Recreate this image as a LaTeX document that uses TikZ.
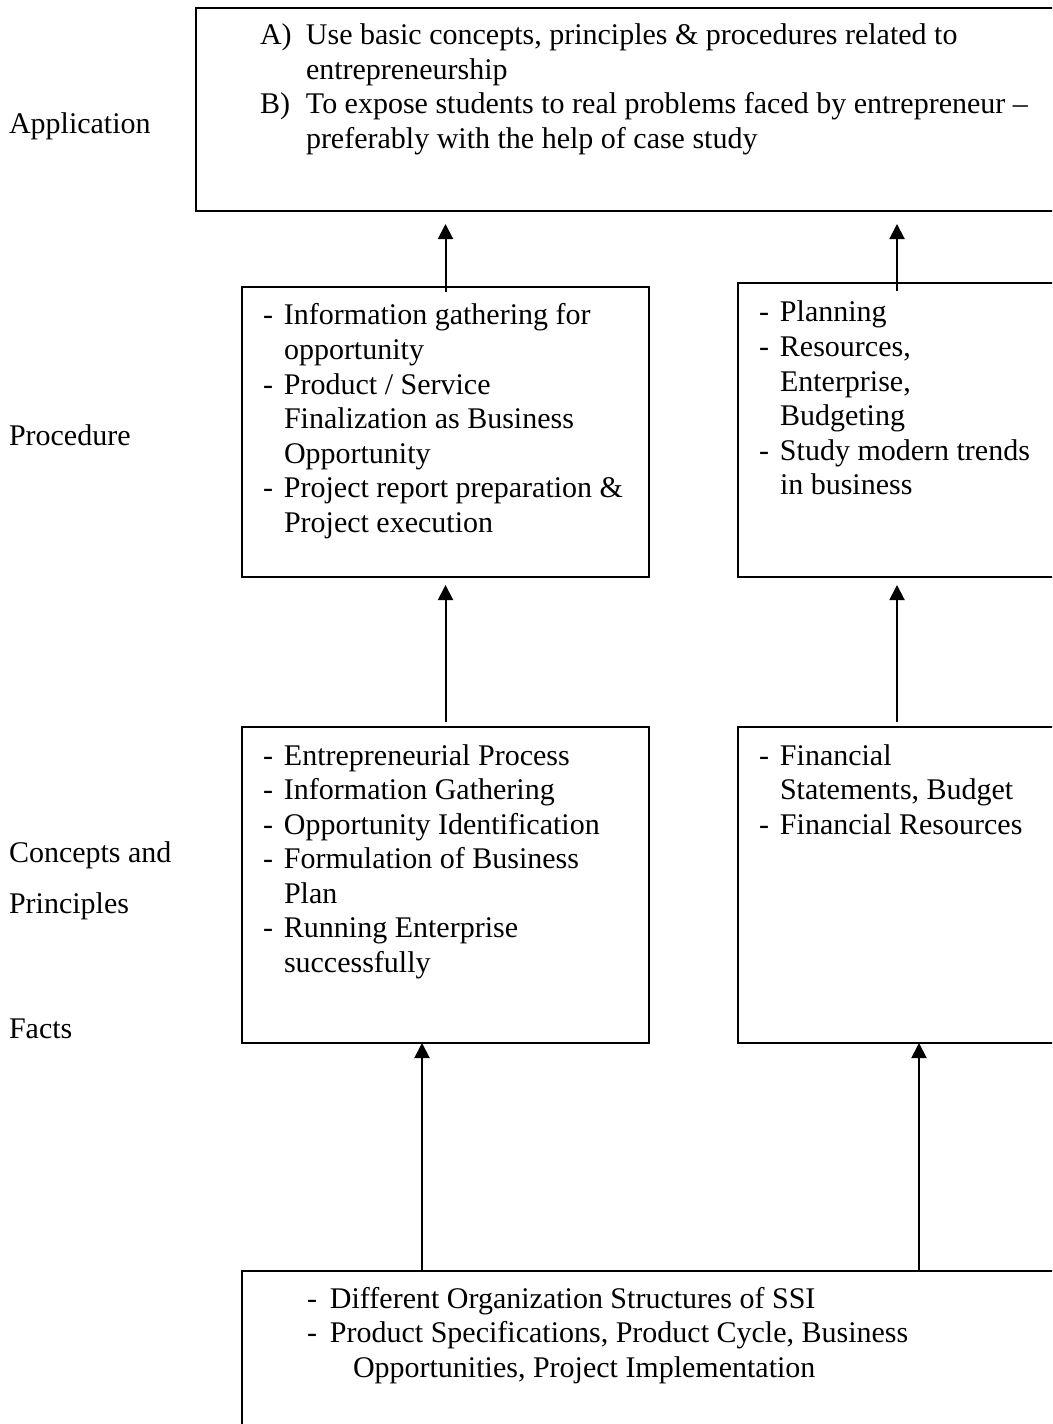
\documentclass[tikz,border=0pt]{standalone}
\usepackage{fontspec}
\setmainfont{Liberation Serif}
\usepackage{array}
\usetikzlibrary{arrows.meta}
\begin{document}
\begin{tikzpicture}[x=0.4pt,y=-0.4pt,
  box/.style={draw,line width=0.8pt,inner sep=0pt,outer sep=0pt,anchor=north west},
  txt/.style={anchor=base west,inner sep=0pt,outer sep=0pt,font=\fontsize{12}{13.8}\selectfont},
  arr/.style={line width=0.8pt,-{Triangle[length=6pt,width=6pt]}}]
\useasboundingbox (0,0) rectangle (1052,1424);
\clip (0,0) rectangle (1052,1424);
% boxes
\node[box,minimum width=349.6pt,minimum height=81.2pt] (app) at (196,8) {};
\node[box,minimum width=162.8pt,minimum height=116pt] (pl) at (242,287) {};
\node[box,minimum width=127.2pt,minimum height=117.6pt] (pr) at (738,283) {};
\node[box,minimum width=162.8pt,minimum height=126.4pt] (cl) at (242,727) {};
\node[box,minimum width=127.2pt,minimum height=126.4pt] (cr) at (738,727) {};
\node[box,minimum width=331.2pt,minimum height=80pt] (fa) at (242,1271) {};
\coordinate (f1) at (422,1271);
\coordinate (f2) at (919,1271);
% left labels
\node[txt] (lapp) at (9,134) {Application};
\node[txt] (lproc) at (9,445) {Procedure};
\node[txt] (lcon) at (9,862) {Concepts and};
\node[txt] (lpri) at (9,913) {Principles};
\node[txt] (lfac) at (9,1038) {Facts};
% texts
\node[txt] (tapp) at (260,45) {\renewcommand\arraystretch{1}\begin{tabular}[t]{@{}p{18.4pt}@{}l@{}}
A) & Use basic concepts, principles \& procedures related to\\
 & entrepreneurship\\
B) & To expose students to real problems faced by entrepreneur --\\
 & preferably with the help of case study
\end{tabular}};
\node[txt] (tpl) at (263,325) {\begin{tabular}[t]{@{}p{8.4pt}@{}l@{}}
- & Information gathering for\\
 & opportunity\\
- & Product / Service\\
 & Finalization as Business\\
 & Opportunity\\
- & Project report preparation \&\\
 & Project execution
\end{tabular}};
\node[txt] (tpr) at (759,322) {\begin{tabular}[t]{@{}p{8.4pt}@{}l@{}}
- & Planning\\
- & Resources,\\
 & Enterprise,\\
 & Budgeting\\
- & Study modern trends\\
 & in business
\end{tabular}};
\node[txt] (tcl) at (263,765) {\begin{tabular}[t]{@{}p{8.4pt}@{}l@{}}
- & Entrepreneurial Process\\
- & Information Gathering\\
- & Opportunity Identification\\
- & Formulation of Business\\
 & Plan\\
- & Running Enterprise\\
 & successfully
\end{tabular}};
\node[txt] (tcr) at (759,765) {\begin{tabular}[t]{@{}p{8.4pt}@{}l@{}}
- & Financial\\
 & Statements, Budget\\
- & Financial Resources
\end{tabular}};
\node[txt] (tfa) at (307,1308) {\begin{tabular}[t]{@{}p{9.2pt}@{}l@{}}
- & Different Organization Structures of SSI\\
- & Product Specifications, Product Cycle, Business\\
 & \hspace{9.2pt}Opportunities, Project Implementation
\end{tabular}};
% arrows
\draw[arr,shorten <=-2pt,shorten >=5.2pt] (pl.north) -- (pl.north |- app.south);
\draw[arr,shorten <=-3.2pt,shorten >=5.2pt] (pr.north) -- (pr.north |- app.south);
\draw[arr,shorten <=2pt,shorten >=3.2pt] (cl.north) -- (cl.north |- pl.south);
\draw[arr,shorten <=2pt,shorten >=3.2pt] (cr.north) -- (cr.north |- pr.south);
\draw[arr] (f1) -- (f1 |- cl.south);
\draw[arr] (f2) -- (f2 |- cr.south);
\end{tikzpicture}
\end{document}
